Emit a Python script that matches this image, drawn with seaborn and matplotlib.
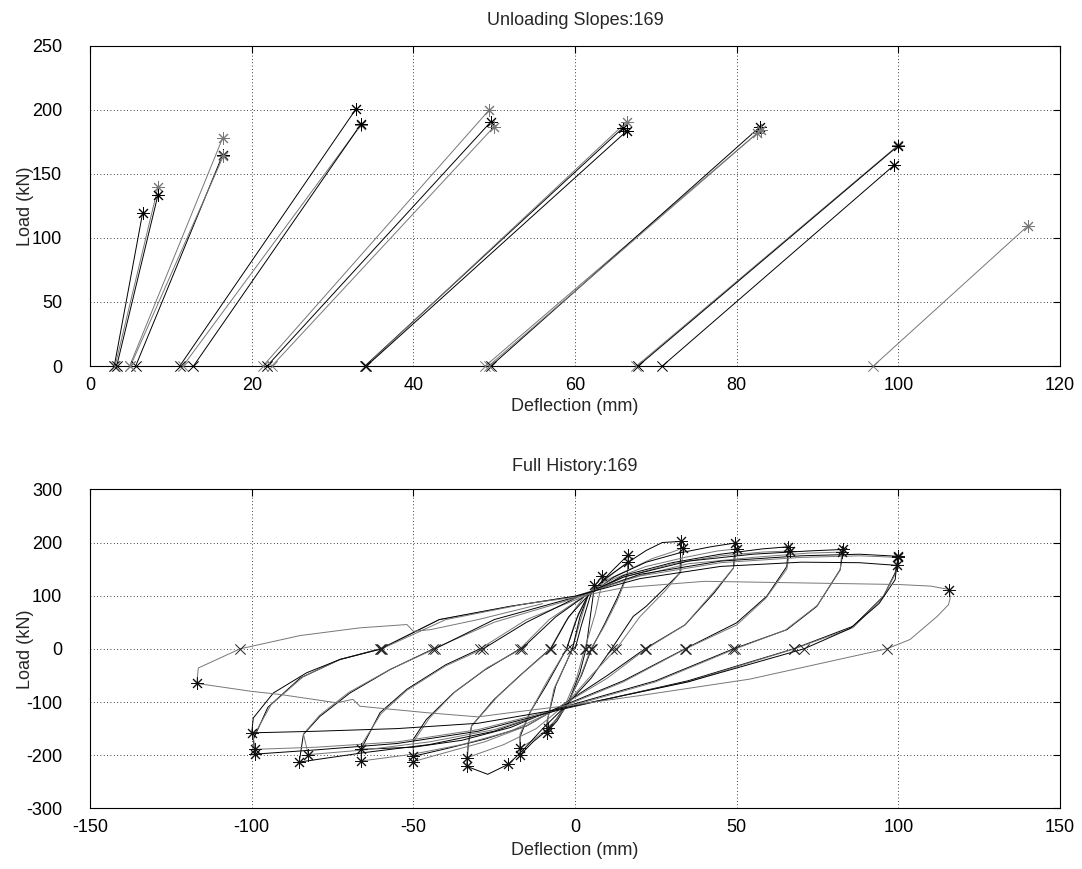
import matplotlib
matplotlib.use("Agg")
import matplotlib.pyplot as plt
import seaborn as sns
import numpy as np

# ---------------- Top panel data (unloading slopes) ----------------
peak_def = [6.5, 8.4, 8.4, 16.4, 16.4, 16.5, 32.9, 33.5, 33.5, 49.4, 49.6, 50.0,
            65.95, 66.4, 66.4, 82.5, 82.9, 83.0, 99.5, 100.0, 100.0, 116.0]
peak_load = [119.2, 139.4, 133.4, 177.8, 164.7, 164.0, 200.6, 188.1, 188.6, 200.0, 190.7, 186.9,
             186.0, 190.7, 183.4, 181.6, 186.8, 184.2, 156.9, 172.5, 172.0, 109.3]
zero_def = [3.0, 3.1, 3.3, 4.9, 5.65, 5.0, 11.1, 11.5, 12.8, 21.4, 21.9, 22.5,
            34.0, 34.1, 34.2, 48.9, 49.6, 49.3, 70.8, 67.6, 67.8, 96.9]

# ---------------- Bottom panel data (full history loops) ----------------
A1_d = [0, 2, 4.5, 6, 5.6, 4.6, 3.4, 1.5, -2, -5.5, -8.8, -8.6, -6, -0.8]
A1_L = [0, 45, 95, 121, 100, 55, 0, -45, -100, -135, -158, -135, -70, 0]
A2_d = [-0.8, 1.5, 4, 6.5, 8.4, 7.9, 6.2, 3.0, 0.5, -3, -6, -8.5, -8.3, -6.5, -0.8]
A2_L = [0, 50, 100, 122, 136.5, 112, 65, 0, -55, -105, -135, -148, -128, -75, 0]
B1_d = [-0.8, 1.5, 4, 8, 12, 16.5, 16.2, 13, 9, 5.1, 2, -3, -8, -13, -17, -17, -14, -9, -2.6]
B1_L = [0, 60, 100, 125, 150, 177, 140, 95, 45, 0, -50, -110, -150, -175, -200, -165, -120, -70, 0]
B2_d = [-2.6, 0, 4, 9, 13, 16.5, 16, 13, 9, 4.9, 1.5, -3, -8, -13, -17, -17, -13.5, -9, -2.6]
B2_L = [0, 50, 100, 128, 148, 164, 135, 90, 42, 0, -55, -112, -148, -172, -186, -160, -115, -65, 0]
C1_d = [-2.6, 1, 4, 10, 17, 22, 27, 32.7, 32.5, 28.4, 22, 18, 11.3, 5, -3, -10, -16, -20.6,
        -27, -33.5, -33, -32, -25, -17, -7.7]
C1_L = [0, 65, 100, 135, 165, 185, 200, 202, 143, 118, 80, 61, 0, -55, -108, -150, -190, -217,
        -236, -221, -180, -145, -95, -50, 0]
C2_d = [-7.7, -3, 3, 10, 17, 24, 30, 33.5, 32.7, 28, 20, 12.8, 5, -3, -12, -22, -33.5, -33, -32,
        -24, -16, -7.5]
C2_L = [0, 50, 100, 130, 150, 170, 182, 190, 145, 110, 60, 0, -50, -105, -150, -180, -205, -175,
        -145, -90, -45, 0]
D1_d = [-7.5, -2, 4, 12, 22, 32, 42, 49.5, 49, 43, 34, 21.6, 10, -5, -15, -28, -40, -50, -50,
        -46, -37.6, -28, -17]
D1_L = [0, 60, 100, 135, 163, 180, 192, 199, 152, 105, 45, 0, -50, -110, -145, -170, -188, -202,
        -170, -133, -83, -40, 0]
D2_d = [-17, -8, 3, 12, 22, 34, 44, 50, 49, 43, 34, 22, 10, -5, -15, -28, -40, -50, -50, -45,
        -37, -27, -16.5]
D2_L = [0, 55, 100, 132, 155, 172, 184, 188, 152, 108, 45, 0, -55, -110, -145, -175, -195, -212,
        -175, -130, -80, -35, 0]
E1_d = [-16.5, -6, 3, 15, 30, 45, 58, 66, 65.5, 59.3, 50, 34, 15, -5, -20, -35, -50, -66.2, -65,
        -60.3, -52, -40, -29.4]
E1_L = [0, 60, 99, 138, 162, 178, 188, 192, 155, 99, 49, 0, -60, -110, -148, -172, -185, -189,
        -175, -120, -76, -30, 0]
E2_d = [-29.4, -15, 3, 15, 30, 45, 58, 66.4, 65.5, 59, 50, 34.2, 15, -5, -20, -35, -50, -66.2,
        -66, -60, -52, -40, -28.4]
E2_L = [0, 55, 99, 135, 160, 175, 182, 184, 150, 95, 45, 0, -62, -112, -155, -180, -198, -211,
        -180, -122, -78, -32, 0]
F1_d = [-28.4, -15, 0, 15, 35, 55, 72, 83, 82, 74.8, 65.5, 49, 25, -5, -25, -45, -65, -85.3,
        -84, -78.9, -69.6, -57.2, -43.8]
F1_L = [0, 50, 95, 135, 165, 178, 184, 187, 149, 80, 36, 0, -60, -112, -155, -180, -195, -213,
        -161, -127, -83, -39, 0]
F2_d = [-43.8, -25, 0, 15, 35, 55, 72, 82.5, 82, 75, 65, 49.6, 25, -5, -25, -45, -65, -82.5,
        -84, -79, -70, -57, -43.3]
F2_L = [0, 50, 95, 130, 160, 172, 180, 182, 148, 82, 35, 0, -62, -114, -152, -175, -190, -199,
        -160, -125, -82, -38, 0]
G1_d = [-43.3, -25, 0, 20, 45, 70, 88, 100, 99, 95.4, 86, 67.6, 35, -5, -30, -55, -80, -99,
        -99.5, -95, -85, -72.7, -60.3]
G1_L = [0, 55, 97, 140, 165, 175, 178, 174, 143, 99, 42.5, 0, -60, -115, -155, -178, -190, -198,
        -170, -110, -55, -20, 0]
G2_d = [-60.3, -42, -20, 0, 20, 45, 70, 88, 100, 99, 95, 86, 67.8, 35, -7, -30, -55, -80, -99,
        -99.5, -94, -84, -72.7, -60]
G2_L = [0, 55, 80, 99, 137, 162, 172, 175, 172, 140, 95, 40, 0, -62, -116, -152, -175, -185,
        -189, -165, -105, -52, -20, 0]
G3_d = [-60, -42, -20, 0, 20, 45, 70, 88, 99.5, 99, 94, 85, 70.8, 35, -7, -30, -55, -80, -100,
        -99.5, -93.3, -83, -72.7, -59.8]
G3_L = [0, 55, 80, 99, 132, 155, 163, 162, 157, 130, 85, 38, 0, -62, -116, -140, -150, -155,
        -158, -130, -83, -45, -20, 0]
H_d = [-59.8, -40, -15, 0, 15, 40, 70, 100, 110, 115.8, 116, 115.5, 112, 103.6, 96.4, 54, 20, 0,
       -20, -30, -46, -66.5, -68.7, -73.7, -91, -100, -117, -116.5, -103.6, -85, -66.5, -52, -50,
       -44.8, -30, -10]
H_L = [0, 55, 85, 97, 115, 127, 124, 121, 118, 111.5, 95, 83, 61, 17.5, 0, -57, -88, -105,
       -120, -128, -120, -108, -95, -101.5, -86, -80, -65, -36, 0, 25, 39.5, 45.7, 33,
       36, 55, 85]

hist_peak_d = [6, 8.4, -8.8, -8.5, 16.5, 16.5, -17, -17, 32.7, 33.5, -20.6, -33.5, -33.5,
               49.5, 50, -50, -50, 66, 66.4, -66.2, -66.2, 83, 82.5, -85.3, -82.5,
               100, 100, 99.5, -99, -99, -100, 115.8, -117]
hist_peak_L = [121, 136.5, -158, -148, 177, 164, -200, -186, 202, 190, -217, -221, -205,
               199, 188, -202, -212, 192, 184, -189, -211, 187, 182, -213, -199,
               174, 172, 157, -198, -189, -158, 111.5, -65]
hist_zero_d = [3.4, 3.0, -0.8, 5.1, 4.9, -2.6, 11.3, 12.8, -7.7, -7.5, 21.6, 22, -17, -16.5,
               34, 34.2, -29.4, -28.4, 49, 49.6, -43.8, -43.3, 67.6, 67.8, 70.8,
               -60.3, -60, -59.8, 96.4, -103.6]

loops = [(A1_d, A1_L), (A2_d, A2_L), (B1_d, B1_L), (B2_d, B2_L), (C1_d, C1_L), (C2_d, C2_L),
         (D1_d, D1_L), (D2_d, D2_L), (E1_d, E1_L), (E2_d, E2_L), (F1_d, F1_L), (F2_d, F2_L),
         (G1_d, G1_L), (G2_d, G2_L), (G3_d, G3_L), (H_d, H_L)]

# ---------------- Styling ----------------
sns.set_style("white")
plt.rcParams['font.family'] = ['Liberation Sans', 'DejaVu Sans']
plt.rcParams['axes.unicode_minus'] = False
FS = 13
BLACK = "#000000"
GRAY = "#777777"
AST = (8, 2, 0)

fig = plt.figure(figsize=(10.82, 8.69), dpi=100)
ax1 = fig.add_axes([0.0832, 0.5788, 0.8965, 0.3686])
ax2 = fig.add_axes([0.0832, 0.0698, 0.8965, 0.3671])


def style_axes(ax, xlab_y):
    ax.grid(True, linestyle=(0, (1, 3)), color="k", linewidth=0.6)
    ax.set_axisbelow(True)
    ax.tick_params(direction="in", top=True, right=True, length=5, width=0.8,
                   labelsize=FS, colors="k")
    ax.tick_params(axis="x", pad=8)
    ax.tick_params(axis="y", pad=20)
    for s in ax.spines.values():
        s.set_color("k")
        s.set_linewidth(0.8)
        s.set_visible(True)
    ax.set_xlabel("Deflection (mm)", fontsize=FS)
    ax.set_ylabel("Load (kN)", fontsize=FS)
    ax.xaxis.set_label_coords(0.5, xlab_y)
    ax.yaxis.set_label_coords(-0.0577, 0.5)


# Top panel
for i in range(len(peak_def)):
    c = BLACK if i % 2 == 0 else GRAY
    sns.lineplot(x=[zero_def[i], peak_def[i]], y=[0, peak_load[i]], sort=False,
                 estimator=None, color=c, linewidth=0.7, ax=ax1, legend=False)
    sns.scatterplot(x=[peak_def[i]], y=[peak_load[i]], marker=AST, s=75, color=c,
                    linewidth=0.7, ax=ax1, legend=False, zorder=3)
    sns.scatterplot(x=[zero_def[i]], y=[0], marker="x", s=55, color=c,
                    linewidth=0.7, ax=ax1, legend=False, zorder=3, clip_on=False)

ax1.set_xlim(0, 120)
ax1.set_ylim(0, 250)
ax1.set_xticks(np.arange(0, 121, 20))
ax1.set_yticks(np.arange(0, 251, 50))
style_axes(ax1, -0.1)
ax1.set_title("Unloading Slopes:169", fontsize=FS, pad=15)

# Bottom panel
for i, (dd, ll) in enumerate(loops):
    c = BLACK if i % 2 == 0 else GRAY
    sns.lineplot(x=dd, y=ll, sort=False, estimator=None, color=c, linewidth=0.7,
                 ax=ax2, legend=False)

sns.scatterplot(x=hist_peak_d, y=hist_peak_L, marker=AST, s=75, color="#111111",
                linewidth=0.7, ax=ax2, legend=False, zorder=3)
sns.scatterplot(x=hist_zero_d, y=[0] * len(hist_zero_d), marker="x", s=55, color="#222222",
                linewidth=0.7, ax=ax2, legend=False, zorder=3)

ax2.set_xlim(-150, 150)
ax2.set_ylim(-300, 300)
ax2.set_xticks(np.arange(-150, 151, 50))
ax2.set_yticks(np.arange(-300, 301, 100))
style_axes(ax2, -0.105)
ax2.set_title("Full History:169", fontsize=FS, pad=13)

fig.savefig("out.png", dpi=100)
